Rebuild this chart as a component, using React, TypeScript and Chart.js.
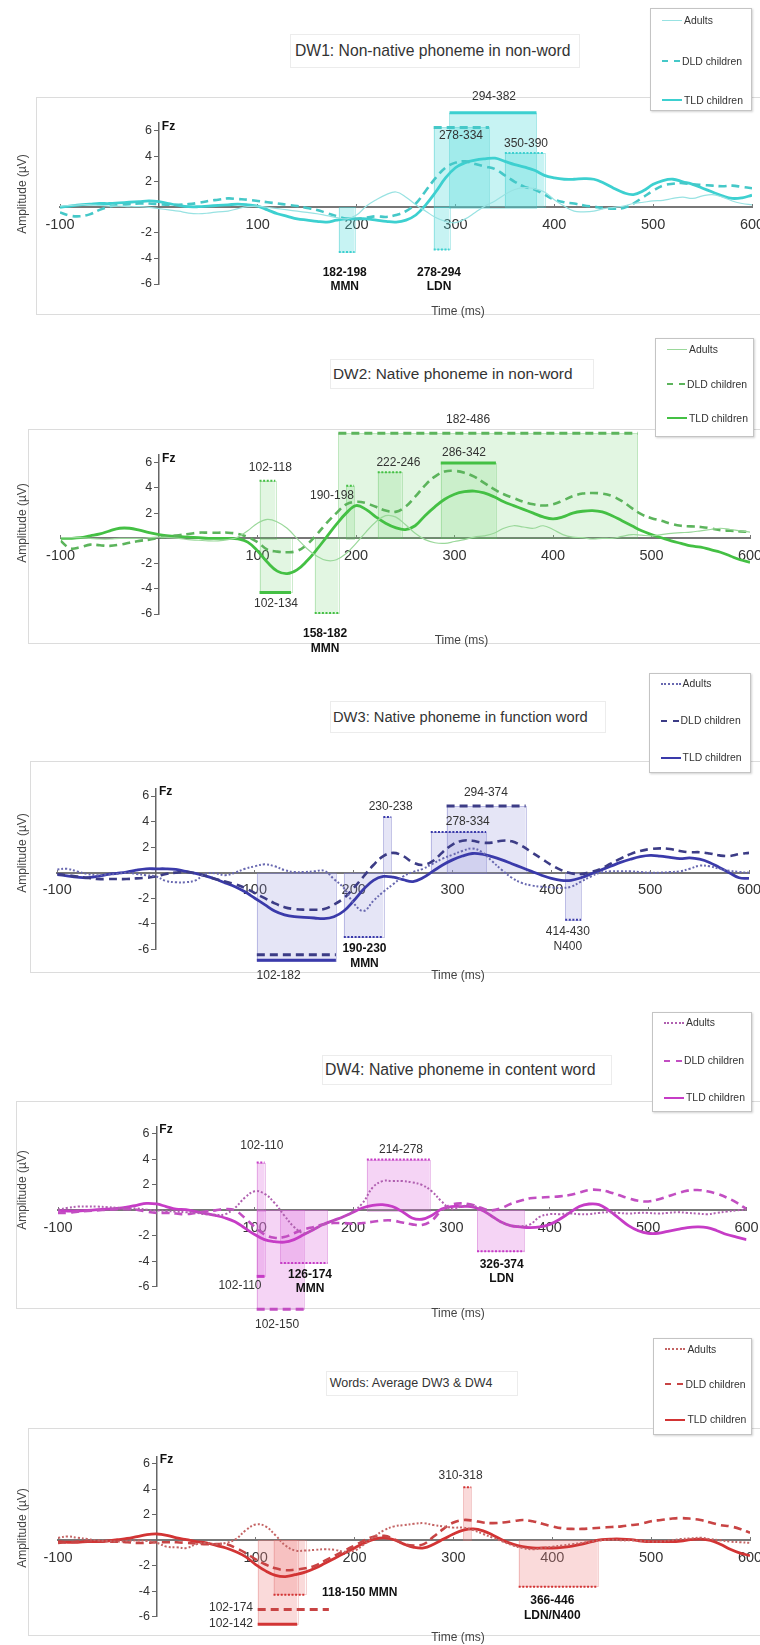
import React, { useEffect, useRef } from 'react';
import { Chart, registerables } from 'chart.js';

Chart.register(...registerables);

const FONT = '"Liberation Sans", Arial, Helvetica, sans-serif';

// ---------------- data ----------------
const timeMs = [-100, -90, -80, -70, -60, -50, -40, -30, -20, -10, 0, 10, 20, 30, 40, 50, 60, 70, 80, 90, 100, 110, 120, 130, 140, 150, 160, 170, 180, 190, 200, 210, 220, 230, 240, 250, 260, 270, 280, 290, 300, 310, 320, 330, 340, 350, 360, 370, 380, 390, 400, 410, 420, 430, 440, 450, 460, 470, 480, 490, 500, 510, 520, 530, 540, 550, 560, 570, 580, 590, 600];

const xTickValues = [-100, 100, 200, 300, 400, 500, 600];
const yTickValues = [-6, -4, -2, 2, 4, 6];
const seriesNames = ['Adults', 'DLD children', 'TLD children'];

// DW1
const dw1Adults = [0.1, 0.15, 0.2, 0.2, 0.15, 0.1, 0.1, 0.05, 0.05, 0, -0.1, -0.2, -0.3, -0.45, -0.5, -0.45, -0.35, -0.3, -0.1, 0.05, 0.1, 0, -0.1, -0.2, -0.3, -0.4, -0.5, -0.65, -0.8, -0.9, -0.6, 0.1, 0.6, 1.0, 1.2, 0.8, 0.2, -0.3, -0.8, -1.1, -1.2, -0.9, -0.4, 0.1, 0.5, 1.0, 1.4, 1.55, 1.45, 1.2, 0.6, 0.1, -0.3, -0.35, -0.3, -0.1, 0, 0.1, 0.3, 0.4, 0.5, 0.55, 0.7, 0.8, 0.7, 0.9, 1.0, 0.8, 0.5, 0.3, 0.2];
const dw1Dld = [-0.4, -0.65, -0.7, -0.55, -0.2, 0.05, 0.2, 0.25, 0.3, 0.3, 0.25, 0.2, 0.2, 0.25, 0.35, 0.5, 0.6, 0.7, 0.65, 0.6, 0.5, 0.4, 0.3, 0.2, 0.1, -0.05, -0.2, -0.45, -0.7, -0.9, -0.9, -0.8, -0.7, -0.75, -0.6, -0.3, 0.3, 1.3, 2.3, 3.1, 3.5, 3.6, 3.4, 3.2, 3.0, 2.5, 2.0, 1.6, 1.4, 1.0, 0.6, 0.4, 0.3, 0.15, 0.05, -0.05, -0.1, -0.05, 0.3, 0.8, 1.3, 1.7, 1.85, 1.9, 1.8, 1.75, 1.7, 1.65, 1.7, 1.6, 1.5];
const dw1Tld = [0, 0.1, 0.2, 0.25, 0.3, 0.3, 0.35, 0.4, 0.45, 0.5, 0.45, 0.3, 0.15, 0.05, 0.05, 0.1, 0.15, 0.2, 0.25, 0.2, 0.1, -0.2, -0.5, -0.7, -0.9, -1.0, -1.1, -1.15, -1.0, -0.9, -0.9, -0.9, -1.0, -1.1, -1.15, -1.0, -0.6, 0.2, 1.2, 2.3, 3.1, 3.5, 3.7, 3.8, 3.85, 3.6, 3.35, 3.15, 2.9, 2.5, 2.3, 2.2, 2.2, 2.25, 2.2, 1.9, 1.5, 1.15, 1.0, 1.3, 1.8, 2.1, 2.2, 2.0, 1.8, 1.5, 1.2, 0.9, 0.7, 0.75, 0.95];
// [from ms, to ms, amplitude µV, group (0 adults,1 DLD,2 TLD), shaded]
const dw1Windows = [[294, 382, 7.4, 2, 1], [278, 334, 6.26, 1, 1], [350, 390, 4.25, 0, 1], [182, 198, -3.5, 0, 1], [278, 294, -3.3, 0, 1]];

// DW2
const dw2Adults = [0.05, 0.05, 0.05, 0, -0.05, -0.05, 0, 0, 0, 0.05, 0.1, 0.05, 0, -0.1, -0.15, -0.2, -0.2, -0.1, 0.1, 0.6, 1.2, 1.5, 1.3, 0.8, 0, -0.8, -1.4, -1.75, -1.7, -1.2, -0.4, 0.5, 1.3, 1.8, 1.7, 1.1, 0.4, -0.1, -0.35, -0.4, -0.25, -0.1, 0.1, 0.2, 0.4, 0.8, 1.0, 0.9, 0.8, 1.0, 0.7, 0.3, 0.1, 0.05, -0.05, 0, 0, 0.15, 0.3, 0.25, 0.2, 0.3, 0.4, 0.45, 0.5, 0.6, 0.7, 0.8, 0.7, 0.6, 0.5];
const dw2Dld = [-0.2, -0.8, -0.7, -0.5, -0.55, -0.6, -0.5, -0.35, -0.2, -0.1, 0.05, 0.15, 0.25, 0.35, 0.45, 0.45, 0.45, 0.45, 0.35, 0.1, -0.3, -0.9, -1.05, -1.1, -1.0, -0.5, 0.3, 1.2, 2.0, 2.7, 2.9, 2.8, 2.5, 2.2, 2.1, 2.5, 3.3, 4.2, 4.9, 5.3, 5.35, 5.2, 4.9, 4.4, 3.9, 3.5, 3.2, 2.9, 2.7, 2.6, 2.7, 3.0, 3.35, 3.55, 3.6, 3.55, 3.35, 2.95, 2.4, 1.9, 1.6, 1.4, 1.15, 1.0, 0.95, 0.9, 0.8, 0.65, 0.6, 0.55, 0.5];
const dw2Tld = [0, 0, 0.05, 0.2, 0.35, 0.6, 0.8, 0.8, 0.65, 0.45, 0.3, 0.2, 0.15, 0.1, 0.05, 0, 0, 0, -0.05, -0.3, -1.0, -1.9, -2.6, -2.8, -2.5, -1.8, -0.9, 0.1, 1.1, 2.0, 2.6, 2.3, 1.7, 1.2, 0.85, 0.7, 1.0, 1.8, 2.5, 3.1, 3.5, 3.7, 3.75, 3.6, 3.3, 2.9, 2.6, 2.3, 2.0, 1.7, 1.55, 1.7, 2.0, 2.15, 2.2, 2.1, 1.8, 1.4, 1.0, 0.6, 0.3, 0.05, -0.2, -0.4, -0.6, -0.7, -0.9, -1.1, -1.4, -1.7, -1.9];
const dw2Windows = [[182, 486, 8.33, 1, 1], [102, 118, 4.57, 0, 1], [102, 134, -4.29, 2, 1], [158, 182, -5.93, 0, 1], [190, 198, 4.17, 0, 1], [222, 246, 5.24, 0, 1], [286, 342, 5.98, 2, 1]];

// DW3
const dw3Adults = [0.25, 0.3, 0.1, -0.1, -0.2, -0.15, -0.1, 0, -0.1, -0.2, -0.3, -0.65, -0.75, -0.75, -0.6, -0.1, -0.05, -0.2, 0, 0.3, 0.5, 0.65, 0.5, 0.2, 0.05, 0.05, 0.1, 0.15, -0.5, -1.2, -2.4, -3.0, -2.2, -1.5, -0.9, -0.3, 0.05, 0.3, 0.7, 1.1, 1.4, 1.7, 1.9, 1.6, 0.9, 0.2, -0.4, -0.8, -1.0, -1.1, -1.15, -1.2, -1.1, -0.7, -0.3, 0, 0.1, 0.1, 0.1, 0.05, 0, 0, 0.05, 0.1, 0.3, 0.55, 0.5, 0.3, 0.15, 0.05, 0];
const dw3Dld = [-0.1, -0.2, -0.3, -0.4, -0.5, -0.5, -0.5, -0.5, -0.45, -0.4, -0.3, -0.1, 0, 0.05, -0.05, -0.25, -0.5, -0.7, -0.9, -1.2, -1.6, -2.0, -2.4, -2.7, -2.85, -2.9, -2.9, -2.85, -2.5, -2.0, -1.2, -0.3, 0.6, 1.3, 1.55, 1.3, 0.8, 0.6, 0.9, 1.6, 2.2, 2.5, 2.5, 2.35, 2.35, 2.5, 2.45, 2.1, 1.6, 1.1, 0.6, 0.2, -0.05, -0.1, 0.05, 0.3, 0.7, 1.1, 1.45, 1.7, 1.85, 1.9, 1.85, 1.7, 1.6, 1.6, 1.5, 1.35, 1.3, 1.45, 1.55];
const dw3Tld = [-0.15, -0.25, -0.35, -0.4, -0.3, -0.15, -0.05, 0.05, 0.2, 0.3, 0.3, 0.3, 0.25, 0.1, -0.05, -0.25, -0.5, -0.8, -1.1, -1.5, -2.0, -2.5, -3.0, -3.3, -3.45, -3.5, -3.55, -3.6, -3.45, -3.0, -2.2, -1.3, -0.6, -0.3, -0.35, -0.55, -0.7, -0.4, 0.1, 0.6, 1.0, 1.3, 1.5, 1.45, 1.25, 1.0, 0.7, 0.4, 0.1, -0.2, -0.45, -0.6, -0.6, -0.4, -0.1, 0.2, 0.5, 0.8, 1.05, 1.25, 1.35, 1.3, 1.2, 1.1, 1.15, 1.05, 0.8, 0.4, 0, -0.4, -0.45];
const dw3Windows = [[102, 182, -6.86, 2, 1], [102, 182, -6.42, 1, 0], [190, 230, -5.04, 0, 1], [230, 238, 4.35, 0, 1], [294, 374, 5.21, 1, 1], [278, 334, 3.18, 0, 1], [414, 430, -3.68, 0, 1]];

// DW4
const dw4Adults = [0.05, 0.2, 0.3, 0.3, 0.3, 0.25, 0.2, 0.15, 0.15, 0.05, 0, -0.05, -0.1, -0.15, -0.2, -0.3, -0.35, -0.3, 0.2, 1.0, 1.5, 1.3, 0.6, -0.4, -1.3, -1.8, -1.5, -1.1, -0.8, -0.5, -0.1, 0.6, 1.8, 2.3, 2.3, 2.3, 2.2, 2.0, 1.5, 0.7, 0.1, 0.3, 0.4, 0.1, -0.4, -0.9, -1.2, -1.25, -1.1, -0.5, -0.3, -0.3, -0.25, -0.3, -0.3, -0.2, -0.15, -0.2, -0.25, -0.2, -0.2, -0.25, -0.2, -0.15, -0.2, -0.25, -0.3, -0.2, -0.1, 0, 0.05];
const dw4Dld = [-0.2, -0.2, -0.1, -0.05, 0, 0.05, 0.1, 0.1, 0.05, -0.1, -0.2, -0.2, -0.25, -0.3, -0.2, -0.1, 0, 0.1, 0, -0.6, -1.3, -1.9, -2.15, -2.1, -1.8, -1.5, -1.3, -1.1, -1.0, -1.0, -1.05, -1.0, -0.9, -0.8, -0.8, -0.95, -1.1, -1.15, -0.8, 0, 0.45, 0.55, 0.45, 0.2, 0, 0.15, 0.5, 0.75, 0.95, 1.0, 1.05, 1.1, 1.2, 1.4, 1.6, 1.6, 1.45, 1.2, 0.95, 0.75, 0.7, 0.85, 1.1, 1.35, 1.55, 1.6, 1.5, 1.3, 1.0, 0.6, 0.1];
const dw4Tld = [0, -0.05, -0.05, 0, 0.05, 0.1, 0.15, 0.25, 0.4, 0.55, 0.5, 0.3, 0.1, 0.05, -0.1, -0.25, -0.4, -0.6, -0.9, -1.4, -1.9, -2.3, -2.45, -2.5, -2.3, -1.9, -1.5, -1.1, -0.8, -0.5, -0.15, 0.2, 0.4, 0.45, 0.3, -0.1, -0.6, -0.7, -0.4, 0.1, 0.3, 0.3, 0.3, 0.05, -0.4, -0.9, -1.2, -1.3, -1.35, -1.3, -1.1, -0.7, -0.2, 0.3, 0.5, 0.45, 0, -0.6, -1.2, -1.6, -1.8, -1.8, -1.65, -1.5, -1.35, -1.3, -1.35, -1.6, -1.9, -2.1, -2.3];
const dw4Windows = [[102, 110, 3.76, 0, 1], [102, 110, -5.19, 2, 1], [102, 150, -7.78, 1, 1], [126, 174, -4.14, 0, 1], [214, 278, 3.99, 0, 1], [326, 374, -3.22, 0, 1]];

// Words (average DW3 & DW4)
const wAdults = [0.2, 0.3, 0.2, 0.1, 0, -0.05, -0.1, -0.05, 0, -0.05, -0.2, -0.5, -0.55, -0.6, -0.3, -0.2, -0.3, -0.2, 0.1, 0.8, 1.25, 1.1, 0.4, -0.4, -0.8, -0.8, -0.75, -0.7, -0.75, -0.9, -0.8, -0.3, 0.3, 0.8, 1.1, 1.2, 1.3, 1.35, 1.2, 1.1, 1.0, 1.0, 0.8, 0.5, 0.2, -0.1, -0.4, -0.6, -0.7, -0.6, -0.5, -0.4, -0.3, -0.2, -0.1, 0, 0.05, 0, 0, -0.05, -0.1, -0.1, 0, 0.1, 0.15, 0.2, 0.1, 0, -0.1, -0.15, -0.2];
const wDld = [-0.2, -0.15, -0.1, -0.05, -0.05, -0.1, -0.1, -0.15, -0.2, -0.2, -0.15, -0.15, -0.15, -0.2, -0.25, -0.3, -0.3, -0.3, -0.6, -1.0, -1.5, -1.9, -2.2, -2.35, -2.3, -2.2, -2.0, -1.6, -1.2, -0.8, -0.4, 0, 0.3, 0.35, 0.1, -0.3, -0.4, -0.3, 0.3, 0.9, 1.4, 1.6, 1.55, 1.4, 1.35, 1.4, 1.5, 1.6, 1.5, 1.3, 1.1, 0.95, 0.9, 0.9, 0.95, 1.0, 1.05, 1.1, 1.2, 1.3, 1.5, 1.6, 1.7, 1.75, 1.7, 1.6, 1.4, 1.2, 1.1, 0.9, 0.6];
const wTld = [-0.1, -0.15, -0.15, -0.1, -0.1, -0.05, 0.05, 0.15, 0.3, 0.45, 0.5, 0.4, 0.2, 0.05, -0.1, -0.2, -0.4, -0.6, -0.9, -1.3, -1.9, -2.4, -2.75, -2.85, -2.7, -2.5, -2.2, -1.8, -1.4, -1.0, -0.6, -0.2, 0.1, 0.2, 0.05, -0.3, -0.55, -0.6, -0.3, 0.1, 0.5, 0.8, 0.9, 0.75, 0.4, 0, -0.3, -0.5, -0.6, -0.6, -0.6, -0.55, -0.45, -0.3, -0.1, 0.05, 0.1, 0.1, 0.05, -0.05, -0.1, -0.1, -0.1, -0.05, 0.05, 0.1, 0, -0.3, -0.7, -1.0, -1.2];
const wWindows = [[310, 318, 4.17, 0, 1], [118, 150, -4.27, 0, 1], [102, 174, -5.44, 1, 0], [102, 142, -6.6, 2, 1], [366, 446, -3.65, 0, 1]];

// ---------------- layout / style config ----------------
const Y_MAX = 6.6;

type Label = [string, number, number, boolean, 'center' | 'left' | 'right'];

interface PanelCfg {
  canvasTop: number; canvasH: number;
  xm100: number; x600: number; y6: number; yM6: number;
  frame: { l: number; t: number; b: number };
  legend: { l: number; t: number; w: number; h: number; rows: number[] };
  title: { text: string; l: number; t: number; w: number; h: number; tx: number; size: number };
  timeLabel: [number, number];
  ampY: number;
  colors: { tld: string; dld: string; adults: string; shade: string; edge: string };
  adultsDotted: boolean;
  series: number[][];
  windows: number[][];
  labels: Label[];
}

const PANELS: PanelCfg[] = [
  {
    canvasTop: 0, canvasH: 330,
    xm100: 60, x600: 752, y6: 130.7, yM6: 284,
    frame: { l: 35.5, t: 96.7, b: 314 },
    legend: { l: 650, t: 8, w: 102, h: 103, rows: [19, 60, 99] },
    title: { text: 'DW1: Non-native phoneme in non-word', l: 290, t: 34, w: 290, h: 34, tx: 4, size: 15.7 },
    timeLabel: [458, 312], ampY: 194,
    colors: { tld: '#3dd0d0', dld: '#45c8c8', adults: '#98e2e2', shade: 'rgba(80,218,218,0.32)', edge: 'rgba(60,200,200,0.35)' },
    adultsDotted: false,
    series: [dw1Adults, dw1Dld, dw1Tld],
    windows: dw1Windows,
    labels: [
      ['294-382', 339, 8.63, false, 'center'],
      ['278-334', 305.6, 5.58, false, 'center'],
      ['350-390', 371.4, 4.95, false, 'center'],
      ['182-198', 188, -5.14, true, 'center'],
      ['MMN', 188, -6.24, true, 'center'],
      ['278-294', 283.4, -5.14, true, 'center'],
      ['LDN', 283.4, -6.24, true, 'center'],
    ],
  },
  {
    canvasTop: 330, canvasH: 330,
    xm100: 60.6, x600: 750, y6: 462.7, yM6: 614,
    frame: { l: 28, t: 429, b: 642.7 },
    legend: { l: 655, t: 338, w: 99, h: 99, rows: [348, 383, 417] },
    title: { text: 'DW2: Native phoneme in non-word', l: 330, t: 359, w: 264, h: 30, tx: 2, size: 15.4 },
    timeLabel: [461.5, 640.7], ampY: 523,
    colors: { tld: '#44c044', dld: '#5cb45c', adults: '#9ad89a', shade: 'rgba(110,212,110,0.2)', edge: 'rgba(90,190,90,0.3)' },
    adultsDotted: false,
    series: [dw2Adults, dw2Dld, dw2Tld],
    windows: dw2Windows,
    labels: [
      ['182-486', 313.7, 9.4, false, 'center'],
      ['102-118', 113, 5.58, false, 'center'],
      ['102-134', 118.7, -5.21, false, 'center'],
      ['158-182', 168.5, -7.58, true, 'center'],
      ['MMN', 168.5, -8.77, true, 'center'],
      ['190-198', 175.6, 3.38, false, 'center'],
      ['222-246', 243, 5.97, false, 'center'],
      ['286-342', 309.6, 6.77, false, 'center'],
    ],
  },
  {
    canvasTop: 660, canvasH: 330,
    xm100: 57.2, x600: 749, y6: 796, yM6: 949.3,
    frame: { l: 30, t: 761, b: 971.7 },
    legend: { l: 648.6, t: 672.7, w: 102.4, h: 100, rows: [683, 720, 756.7] },
    title: { text: 'DW3: Native phoneme in function word', l: 330, t: 701, w: 276, h: 32, tx: 2, size: 14.7 },
    timeLabel: [458, 976], ampY: 853,
    colors: { tld: '#3a3aaa', dld: '#3c3c86', adults: '#6868b0', shade: 'rgba(150,150,220,0.25)', edge: 'rgba(120,120,200,0.4)' },
    adultsDotted: true,
    series: [dw3Adults, dw3Dld, dw3Tld],
    windows: dw3Windows,
    labels: [
      ['102-182', 124, -8.04, false, 'center'],
      ['190-230', 210.9, -5.92, true, 'center'],
      ['MMN', 210.9, -7.1, true, 'center'],
      ['230-238', 237.4, 5.13, false, 'center'],
      ['294-374', 333.8, 6.23, false, 'center'],
      ['278-334', 315.4, 4.01, false, 'center'],
      ['414-430', 416.7, -4.65, false, 'center'],
      ['N400', 416.7, -5.76, false, 'center'],
    ],
  },
  {
    canvasTop: 990, canvasH: 345,
    xm100: 58, x600: 746.5, y6: 1134, yM6: 1286.7,
    frame: { l: 16, t: 1100.7, b: 1308 },
    legend: { l: 652, t: 1011.7, w: 100, h: 100, rows: [1022, 1060, 1097] },
    title: { text: 'DW4: Native phoneme in content word', l: 322, t: 1055, w: 290, h: 30, tx: 2, size: 15.8 },
    timeLabel: [458, 1314], ampY: 1190,
    colors: { tld: '#c63cc6', dld: '#c24ec2', adults: '#b060b0', shade: 'rgba(225,120,225,0.32)', edge: 'rgba(200,90,200,0.35)' },
    adultsDotted: true,
    series: [dw4Adults, dw4Dld, dw4Tld],
    windows: dw4Windows,
    labels: [
      ['102-110', 107.2, 5.05, false, 'center'],
      ['102-110', 85, -5.89, false, 'center'],
      ['102-150', 122.7, -8.96, false, 'center'],
      ['126-174', 156.2, -5.03, true, 'center'],
      ['MMN', 156.2, -6.15, true, 'center'],
      ['214-278', 248.7, 4.79, false, 'center'],
      ['326-374', 351.1, -4.24, true, 'center'],
      ['LDN', 351.1, -5.37, true, 'center'],
    ],
  },
  {
    canvasTop: 1335, canvasH: 310,
    xm100: 58, x600: 750, y6: 1464, yM6: 1616.7,
    frame: { l: 28, t: 1428.3, b: 1635 },
    legend: { l: 653.4, t: 1338.3, w: 98.6, h: 96.7, rows: [1348.3, 1383.3, 1419] },
    title: { text: 'Words: Average DW3 & DW4', l: 325.7, t: 1371, w: 192, h: 25, tx: 3, size: 12.5 },
    timeLabel: [458, 1638], ampY: 1528,
    colors: { tld: '#d23434', dld: '#c84444', adults: '#c46464', shade: 'rgba(240,140,140,0.32)', edge: 'rgba(220,110,110,0.3)' },
    adultsDotted: true,
    series: [wAdults, wDld, wTld],
    windows: wWindows,
    labels: [
      ['310-318', 307.2, 5.08, false, 'center'],
      ['118-150 MMN', 167, -4.09, true, 'left'],
      ['102-174', 97.3, -5.32, false, 'right'],
      ['102-142', 97.3, -6.58, false, 'right'],
      ['366-446', 400, -4.77, true, 'center'],
      ['LDN/N400', 400, -5.92, true, 'center'],
    ],
  },
];

function lineStyles(p: PanelCfg) {
  return [
    { color: p.colors.adults, width: p.adultsDotted ? 2 : 1.2, dash: p.adultsDotted ? [2, 2] : [] },
    { color: p.colors.dld, width: 2.6, dash: [8, 5] },
    { color: p.colors.tld, width: 2.8, dash: [] as number[] },
  ];
}

function barStyle(p: PanelCfg, g: number) {
  if (g === 0) return { color: p.colors.tld, width: 2, dash: [2, 1.6] };
  if (g === 1) return { color: p.colors.dld, width: 3, dash: [8, 5] };
  return { color: p.colors.tld, width: 3, dash: [] as number[] };
}

function PanelChart({ p }: { p: PanelCfg }) {
  const ref = useRef<HTMLCanvasElement>(null);
  useEffect(() => {
    const canvas = ref.current;
    if (!canvas) return;
    const yPer = (p.yM6 - p.y6) / 12;
    const zeroY = (p.y6 + p.yM6) / 2;
    const topPx = zeroY - Y_MAX * yPer;
    const styles = lineStyles(p);

    const annot = {
      id: 'annot',
      beforeDraw(chart: any) {
        const ctx = chart.ctx;
        ctx.save();
        ctx.strokeStyle = '#dcdcdc';
        ctx.lineWidth = 1;
        ctx.strokeRect(Math.round(p.frame.l) + 0.5, Math.round(p.frame.t - p.canvasTop) + 0.5, 800, Math.round(p.frame.b - p.frame.t));
        ctx.restore();
      },
      beforeDatasetsDraw(chart: any) {
        const { ctx, scales } = chart;
        const x = scales.x, y = scales.y;
        const y0 = y.getPixelForValue(0);
        ctx.save();
        for (const w of p.windows) {
          if (!w[4]) continue;
          const x1 = x.getPixelForValue(w[0]);
          const x2 = x.getPixelForValue(w[1]);
          const y1 = y.getPixelForValue(w[2]);
          ctx.fillStyle = p.colors.shade;
          ctx.fillRect(x1, Math.min(y0, y1), x2 - x1, Math.abs(y1 - y0));
          ctx.strokeStyle = p.colors.edge;
          ctx.lineWidth = 1;
          ctx.strokeRect(Math.round(x1) + 0.5, Math.round(Math.min(y0, y1)) + 0.5, Math.round(x2 - x1), Math.round(Math.abs(y1 - y0)));
        }
        for (const w of p.windows) {
          const x1 = x.getPixelForValue(w[0]);
          const x2 = x.getPixelForValue(w[1]);
          const y1 = y.getPixelForValue(w[2]);
          const s = barStyle(p, w[3]);
          ctx.strokeStyle = s.color;
          ctx.lineWidth = s.width;
          ctx.setLineDash(s.dash);
          ctx.beginPath();
          ctx.moveTo(x1, y1);
          ctx.lineTo(x2, y1);
          ctx.stroke();
        }
        ctx.restore();
      },
      afterDatasetsDraw(chart: any) {
        const { ctx, scales } = chart;
        const x = scales.x, y = scales.y;
        ctx.save();
        ctx.textBaseline = 'middle';
        for (const l of p.labels) {
          ctx.font = `${l[3] ? 'bold ' : ''}12px ${FONT}`;
          ctx.fillStyle = l[3] ? '#111' : '#333';
          ctx.textAlign = l[4];
          ctx.fillText(l[0], x.getPixelForValue(l[1]), y.getPixelForValue(l[2]));
        }
        // Fz
        ctx.font = `bold 12px ${FONT}`;
        ctx.fillStyle = '#111';
        ctx.textAlign = 'left';
        ctx.fillText('Fz', x.getPixelForValue(0) + 3, y.getPixelForValue(6) - 4);
        // axis titles
        ctx.font = `12px ${FONT}`;
        ctx.fillStyle = '#444';
        ctx.textAlign = 'center';
        ctx.fillText('Time (ms)', p.timeLabel[0], p.timeLabel[1] - p.canvasTop);
        ctx.translate(23, p.ampY - p.canvasTop);
        ctx.rotate(-Math.PI / 2);
        ctx.fillText('Amplitude (µV)', 0, 0);
        ctx.restore();
      },
    };

    const tickFontX = { size: 14.5, family: FONT };
    const tickFontY = { size: 12.5, family: FONT };

    const chart = new Chart(canvas, {
      type: 'line',
      data: {
        datasets: p.series.map((vals, i) => ({
          label: seriesNames[i],
          data: timeMs.map((t, k) => ({ x: t, y: vals[k] })),
          borderColor: styles[i].color,
          borderWidth: styles[i].width,
          borderDash: styles[i].dash,
          pointRadius: 0,
          tension: 0.4,
          fill: false,
        })),
      },
      options: {
        responsive: false,
        animation: false,
        devicePixelRatio: 1,
        events: [],
        layout: {
          padding: {
            left: p.xm100,
            right: 760 - p.x600,
            top: topPx - p.canvasTop,
            bottom: p.canvasTop + p.canvasH - p.yM6,
          },
        },
        plugins: { legend: { display: false }, tooltip: { enabled: false }, title: { display: false } },
        scales: {
          x: {
            type: 'linear',
            min: -100,
            max: 600,
            position: { y: 0 } as any,
            afterBuildTicks: (s: any) => { s.ticks = xTickValues.map((v) => ({ value: v })); },
            afterFit: (s: any) => { s.paddingLeft = 0; s.paddingRight = 0; },
            ticks: { font: tickFontX, color: '#333', padding: 13, maxRotation: 0, autoSkip: false },
            grid: { display: true, drawOnChartArea: false, drawTicks: true, tickLength: -4, color: '#777', lineWidth: 1 },
            border: { display: true, color: '#777', width: 2 },
          },
          y: {
            type: 'linear',
            min: -6,
            max: Y_MAX,
            position: { x: 0 } as any,
            afterBuildTicks: (s: any) => { s.ticks = yTickValues.map((v) => ({ value: v })); },
            afterFit: (s: any) => { s.paddingTop = 0; s.paddingBottom = 0; },
            ticks: {
              font: tickFontY, color: '#333', padding: 2, autoSkip: false,
              callback: (v: any) => `${v}\u00a0\u00a0`,
            },
            grid: { display: true, drawOnChartArea: false, drawTicks: true, tickLength: 4, color: '#666', lineWidth: 1 },
            border: { display: true, color: '#666', width: 1.5 },
          },
        },
      },
      plugins: [annot],
    } as any);
    return () => chart.destroy();
  }, [p]);
  return (
    <canvas
      ref={ref}
      width={760}
      height={p.canvasH}
      style={{ position: 'absolute', left: 0, top: p.canvasTop, width: 760, height: p.canvasH }}
    />
  );
}

function LegendBox({ p }: { p: PanelCfg }) {
  const st = lineStyles(p);
  const cssStyle = (i: number) => (i === 0 ? (p.adultsDotted ? 'dotted' : 'solid') : i === 1 ? 'dashed' : 'solid');
  return (
    <div
      style={{
        position: 'absolute', left: p.legend.l, top: p.legend.t, width: p.legend.w, height: p.legend.h,
        border: '1px solid #c4c4c4', boxShadow: '1px 1px 2px rgba(0,0,0,0.18)', background: '#fff', boxSizing: 'border-box',
      }}
    >
      {seriesNames.map((n, i) => (
        <div
          key={n}
          style={{
            position: 'absolute', left: 11, top: p.legend.rows[i] - p.legend.t - 7, height: 14,
            display: 'flex', alignItems: 'center', whiteSpace: 'nowrap',
          }}
        >
          <span
            style={{
              display: 'inline-block', width: i === 1 ? 18 : 20,
              borderTop: `${i === 0 ? (p.adultsDotted ? 2 : 1) : 2.5}px ${cssStyle(i)} ${st[i].color}`,
              marginRight: 2,
            }}
          />
          <span style={{ fontFamily: FONT, fontSize: 10.4, color: '#333' }}>{n}</span>
        </div>
      ))}
    </div>
  );
}

function TitleBox({ p }: { p: PanelCfg }) {
  const t = p.title;
  return (
    <div
      style={{
        position: 'absolute', left: t.l, top: t.t, width: t.w, height: t.h, boxSizing: 'border-box',
        border: '1px solid #ececec', background: '#fff', fontFamily: FONT, fontSize: t.size, color: '#333',
        lineHeight: `${t.h - 2}px`, paddingLeft: t.tx, whiteSpace: 'nowrap',
      }}
    >
      {t.text}
    </div>
  );
}

export default function App() {
  return (
    <div style={{ position: 'absolute', left: 0, top: 0, width: 760, height: 1645, background: '#fff', overflow: 'hidden' }}>
      {PANELS.map((p, i) => (
        <React.Fragment key={i}>
          <TitleBox p={p} />
          <PanelChart p={p} />
          <LegendBox p={p} />
        </React.Fragment>
      ))}
    </div>
  );
}
